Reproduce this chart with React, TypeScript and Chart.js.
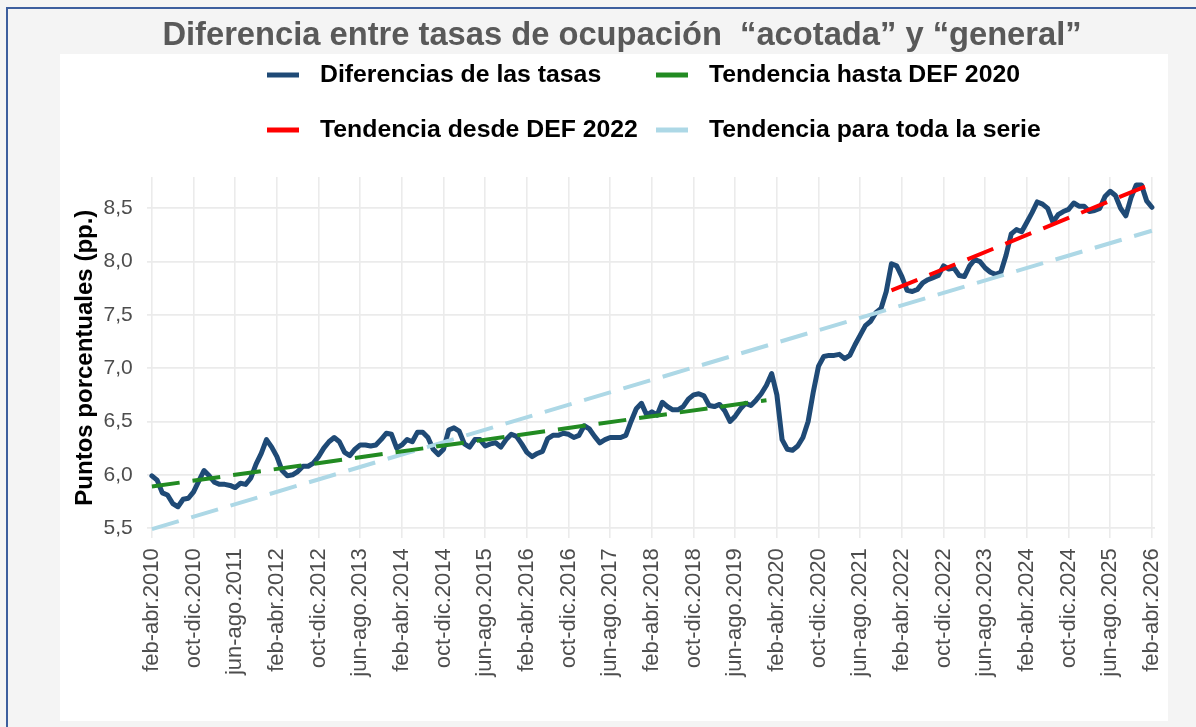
import { useEffect, useRef } from "react";
import { Chart, registerables } from "chart.js";

Chart.register(...registerables);

// Labelled moving-quarter periods (every 8th period of the monthly series)
const tickLabels = [
  "feb-abr.2010", "oct-dic.2010", "jun-ago.2011", "feb-abr.2012", "oct-dic.2012",
  "jun-ago.2013", "feb-abr.2014", "oct-dic.2014", "jun-ago.2015", "feb-abr.2016",
  "oct-dic.2016", "jun-ago.2017", "feb-abr.2018", "oct-dic.2018", "jun-ago.2019",
  "feb-abr.2020", "oct-dic.2020", "jun-ago.2021", "feb-abr.2022", "oct-dic.2022",
  "jun-ago.2023", "feb-abr.2024", "oct-dic.2024", "jun-ago.2025", "feb-abr.2026",
];
const tickStep = 8;

// Difference between "acotada" and "general" occupation rates (pp.), feb-abr.2010 .. feb-abr.2026
const diffValues = [
  5.99, 5.95, 5.83, 5.81, 5.73, 5.70, 5.77, 5.78, 5.84, 5.94,
  6.04, 5.99, 5.93, 5.91, 5.91, 5.90, 5.88, 5.92, 5.91, 5.97,
  6.10, 6.20, 6.33, 6.26, 6.17, 6.04, 5.99, 6.00, 6.03, 6.08,
  6.08, 6.11, 6.17, 6.25, 6.31, 6.35, 6.31, 6.21, 6.18, 6.24,
  6.28, 6.28, 6.27, 6.28, 6.33, 6.39, 6.38, 6.25, 6.28, 6.33,
  6.31, 6.40, 6.40, 6.35, 6.24, 6.19, 6.24, 6.42, 6.44, 6.41,
  6.29, 6.26, 6.33, 6.33, 6.27, 6.29, 6.30, 6.26, 6.33, 6.38,
  6.36, 6.29, 6.21, 6.17, 6.20, 6.22, 6.34, 6.37, 6.37, 6.39,
  6.38, 6.35, 6.37, 6.46, 6.43, 6.36, 6.30, 6.33, 6.35, 6.35,
  6.35, 6.37, 6.50, 6.62, 6.67, 6.56, 6.59, 6.56, 6.68, 6.64,
  6.61, 6.61, 6.64, 6.71, 6.75, 6.76, 6.74, 6.65, 6.64, 6.66,
  6.60, 6.50, 6.55, 6.62, 6.67, 6.65, 6.70, 6.76, 6.84, 6.95,
  6.75, 6.33, 6.24, 6.23, 6.27, 6.35, 6.50, 6.78, 7.02, 7.11,
  7.12, 7.12, 7.13, 7.09, 7.12, 7.22, 7.31, 7.40, 7.44, 7.52,
  7.56, 7.72, 7.98, 7.96, 7.86, 7.73, 7.72, 7.74, 7.80, 7.83,
  7.85, 7.87, 7.96, 7.93, 7.94, 7.87, 7.86, 7.96, 8.02, 8.00,
  7.94, 7.90, 7.88, 7.90, 8.06, 8.26, 8.30, 8.28, 8.37, 8.46,
  8.56, 8.54, 8.50, 8.37, 8.44, 8.47, 8.49, 8.55, 8.52, 8.52,
  8.47, 8.48, 8.50, 8.61, 8.66, 8.62, 8.50, 8.43, 8.60, 8.72,
  8.72, 8.57, 8.51,
];

// Trend lines: [period index, value] at each end
const trendHastaDef2020 = [[0, 5.89], [118, 6.70]];
const trendDesdeDef2022 = [[142, 7.73], [192, 8.73]];
const trendTodaSerie = [[0, 5.49], [192, 8.29]];

const seriesNames = [
  "Diferencias de las tasas",
  "Tendencia hasta DEF 2020",
  "Tendencia desde DEF 2022",
  "Tendencia para toda la serie",
];

const yGridValues = [5.5, 5.75, 6, 6.25, 6.5, 6.75, 7, 7.25, 7.5, 7.75, 8, 8.25, 8.5, 8.75];

const NAVY = "#1f4a76";
const GREEN = "#228b22";
const RED = "#ff0000";
const LIGHTBLUE = "#add8e6";
const FONT = "'Liberation Sans', Arial, Helvetica, sans-serif";

export default function App() {
  const ref = useRef<HTMLCanvasElement>(null);

  useEffect(() => {
    const canvas = ref.current;
    if (!canvas) return;

    const framePlugin = {
      id: "frame",
      beforeDraw(chart: any) {
        const { ctx, width, height } = chart;
        ctx.save();
        ctx.fillStyle = "#f4f4f4";
        ctx.fillRect(0, 0, width, height);
        ctx.fillStyle = "#ffffff";
        ctx.fillRect(60, 54, 1108, 667);
        ctx.strokeStyle = "#3d5f9e";
        ctx.lineWidth = 2;
        ctx.beginPath();
        ctx.moveTo(7, height);
        ctx.lineTo(7, 8);
        ctx.lineTo(width, 8);
        ctx.stroke();
        ctx.restore();
      },
      afterDraw(chart: any) {
        const { ctx } = chart;
        ctx.save();
        ctx.fillStyle = "#595959";
        ctx.font = `bold 32.7px ${FONT}`;
        ctx.textAlign = "center";
        ctx.textBaseline = "alphabetic";
        ctx.fillText("Diferencia entre tasas de ocupación  “acotada” y “general”", 622, 45);

        const cols = [267, 656];
        const rows = [75, 130];
        const colors = [NAVY, GREEN, RED, LIGHTBLUE];
        ctx.font = `bold 24.8px ${FONT}`;
        ctx.textAlign = "left";
        ctx.textBaseline = "middle";
        chart.data.datasets.forEach((ds: any, k: number) => {
          const x = cols[k % 2];
          const y = rows[Math.floor(k / 2)];
          ctx.strokeStyle = colors[k];
          ctx.lineWidth = 5;
          ctx.lineCap = "butt";
          ctx.beginPath();
          ctx.moveTo(x, y);
          ctx.lineTo(x + 32, y);
          ctx.stroke();
          ctx.fillStyle = "#000000";
          ctx.fillText(ds.label, x + 53, y + 0.5);
        });
        ctx.restore();
      },
    };

    const toPoints = (pairs: number[][]) => pairs.map(([x, y]) => ({ x, y }));

    const chart = new Chart(canvas, {
      type: "line",
      data: {
        datasets: [
          {
            label: seriesNames[0],
            data: diffValues.map((v, i) => ({ x: i, y: v })),
            borderColor: NAVY,
            borderWidth: 5,
            pointRadius: 0,
            tension: 0,
            borderJoinStyle: "round",
            borderCapStyle: "round",
            order: 4,
          },
          {
            label: seriesNames[1],
            data: toPoints(trendHastaDef2020),
            borderColor: GREEN,
            borderWidth: 4,
            borderDash: [28, 13],
            pointRadius: 0,
            order: 2,
          },
          {
            label: seriesNames[2],
            data: toPoints(trendDesdeDef2022),
            borderColor: RED,
            borderWidth: 4,
            borderDash: [28, 13],
            pointRadius: 0,
            order: 1,
          },
          {
            label: seriesNames[3],
            data: toPoints(trendTodaSerie),
            borderColor: LIGHTBLUE,
            borderWidth: 4,
            borderDash: [28, 13],
            pointRadius: 0,
            order: 3,
          },
        ],
      },
      options: {
        animation: false,
        responsive: false,
        events: [],
        layout: { padding: { left: 60, right: 41, top: 177, bottom: 0 } },
        plugins: {
          legend: { display: false },
          title: { display: false },
          tooltip: { enabled: false },
        },
        scales: {
          x: {
            type: "linear",
            min: -1,
            max: 192.6,
            afterBuildTicks: (s: any) => {
              s.ticks = tickLabels.map((_, k) => ({ value: k * tickStep }));
            },
            afterFit: (s: any) => {
              s.height = 188.7;
              s.paddingLeft = 0;
              s.paddingRight = 0;
            },
            border: { display: false },
            grid: { color: "#ebebeb", lineWidth: 1.6, drawTicks: false },
            ticks: {
              autoSkip: false,
              minRotation: 90,
              maxRotation: 90,
              padding: 10,
              color: "#4d4d4d",
              font: { family: FONT, size: 22 },
              callback: (_v: any, index: number) => tickLabels[index] ?? "",
            },
          },
          y: {
            type: "linear",
            min: 5.404,
            max: 8.794,
            afterBuildTicks: (s: any) => {
              s.ticks = yGridValues.map((v) => ({ value: v }));
            },
            afterFit: (s: any) => {
              s.width = 86.7;
              s.paddingTop = 0;
              s.paddingBottom = 0;
            },
            border: { display: false },
            grid: {
              color: "#ebebeb",
              drawTicks: false,
              lineWidth: (c: any) => {
                const v = c.tick ? c.tick.value : 0;
                return Math.abs(v * 2 - Math.round(v * 2)) < 1e-6 ? 1.8 : 1.1;
              },
            },
            ticks: {
              padding: 14,
              color: "#4d4d4d",
              font: { family: FONT, size: 21 },
              callback: (v: any) => {
                const n = Number(v);
                return Math.abs(n * 2 - Math.round(n * 2)) < 1e-6 ? n.toFixed(1).replace(".", ",") : "";
              },
            },
            title: {
              display: true,
              text: "Puntos porcentuales (pp.)",
              color: "#000000",
              font: { family: FONT, size: 24, weight: "bold" },
              padding: { top: 10.6, bottom: 0 },
            },
          },
        },
      },
      plugins: [framePlugin],
    } as any);

    return () => chart.destroy();
  }, []);

  return (
    <div style={{ position: "fixed", left: 0, top: 0, width: 1196, height: 727 }}>
      <canvas ref={ref} width={1196} height={727} style={{ display: "block" }} />
    </div>
  );
}
